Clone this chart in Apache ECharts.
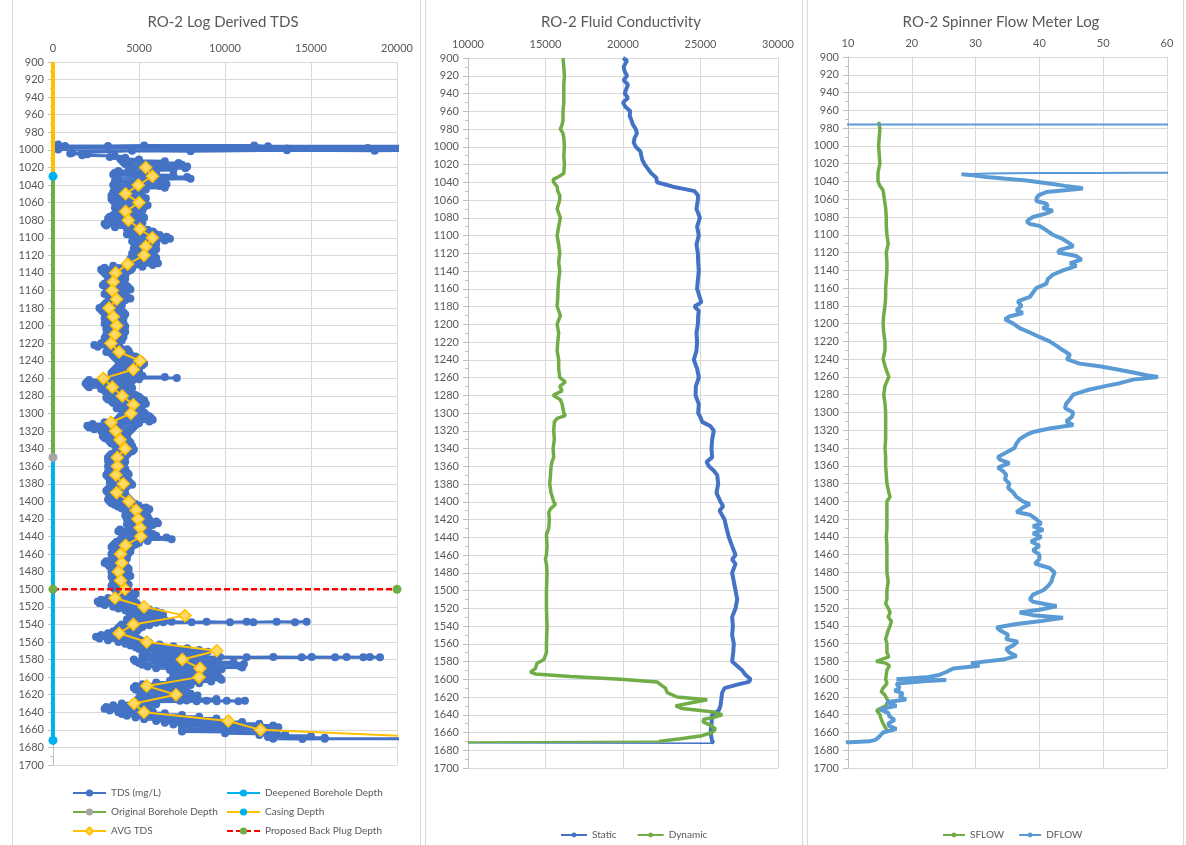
<!DOCTYPE html>
<html>
<head>
<meta charset="utf-8">
<title>RO-2 Logs</title>
<script src="https://cdn.jsdelivr.net/npm/echarts@6/dist/echarts.min.js"></script>
<style>
  html, body { margin: 0; padding: 0; background: #fff; }
  #main { width: 1186px; height: 845px; }
</style>
</head>
<body>
<div id="main"></div>
<script>
// ---- panel 1 : log derived TDS, points are [TDS mg/L, depth ft]
var tdsPoints = [
  [300,994],[700,995.5],[3200,995.5],[5300,995],[11700,995],[12500,996],[24000,996],
  [300,996.5],[24000,997],[300,997.5],[8000,998],[13600,998.5],[18300,998],[24000,998],
  [300,998.5],[24000,999],[300,999.5],[24000,999.5],[18700,1001],[13600,1000.5],[8000,1001.5],
  [4600,1001],[1100,1003.5],[1700,1005],[1000,1004],[2000,1005],[1700,1006],[3600,1007],[3300,1008],[4200,1009],
  [3900,1010],[5000,1011],[4000,1012],[6500,1013],[4100,1014],[7300,1015],[4200,1016],[7500,1017],
  [4500,1018],[7800,1019],[4400,1020],[7700,1021],[4600,1022],[7000,1023],[3800,1024],[6000,1025],
  [3600,1026],[5600,1027],[3500,1028],[7000,1029],[3600,1030],[7800,1031],[3700,1032],[8000,1033],
  [3800,1034],[6500,1035],[3600,1036],[6300,1037],[3700,1038],[6600,1039],[3500,1040],[6200,1041],
  [3800,1042],[6500,1043],[3600,1044],[5400,1045],[3700,1046],[5000,1047],[3500,1048],[5100,1049],
  [3600,1050],[5000,1051],[3400,1052],[5200,1053],[3500,1054],[5400,1055],[3400,1056],[5000,1057],
  [3500,1058],[5100,1059],[3600,1060],[5300,1061],[3700,1062],[5500,1063],[3800,1064],[5300,1065],
  [3600,1066],[5000,1067],[3700,1068],[5200,1069],[3800,1070],[5000,1071],[3900,1072],[4900,1073],
  [3500,1074],[5000,1075],[3300,1076],[5300,1077],[3200,1078],[4900,1079],[3500,1080],[4600,1081],
  [3400,1082],[5200,1083],[3000,1084],[4800,1085],[3100,1086],[4500,1087],[3600,1088],[4700,1089],
  [4300,1090],[5500,1091],[4500,1092],[5800,1093],[4400,1094],[5900,1095],[4300,1096],[6200,1097],
  [4600,1098],[6600,1099],[4700,1100],[6800,1101],[4800,1102],[6500,1103],[4600,1104],[5800,1105],
  [4900,1106],[6000,1107],[4800,1108],[5700,1109],[4900,1110],[5800,1111],[4700,1112],[6000,1113],
  [4900,1114],[5600,1115],[4800,1116],[5500,1117],[4600,1118],[5800,1119],[4900,1120],[5900,1121],
  [4700,1122],[6000,1123],[4500,1124],[5800,1125],[4600,1126],[6000,1127],[4800,1128],[6100,1129],
  [4400,1130],[5800,1131],[3500,1132],[5200,1133],[3000,1134],[4600,1135],[2800,1136],[4500,1137],
  [2900,1138],[4300,1139],[3000,1140],[4000,1141],[3100,1142],[4200,1143],[3300,1144],[4100,1145],
  [3400,1146],[4200,1147],[3200,1148],[3900,1149],[3300,1150],[4100,1151],[3000,1152],[3800,1153],
  [2900,1154],[4300,1155],[3100,1156],[4400,1157],[3300,1158],[4500,1159],[3200,1160],[4200,1161],
  [3100,1162],[4000,1163],[3000,1164],[4100,1165],[3200,1166],[4300,1167],[3300,1168],[4500,1169],
  [3400,1170],[4200,1171],[3300,1172],[4000,1173],[3100,1174],[3900,1175],[3000,1176],[4000,1177],
  [2900,1178],[3800,1179],[2700,1180],[3700,1181],[2800,1182],[3900,1183],[2900,1184],[4100,1185],
  [3000,1186],[4200,1187],[3100,1188],[4000,1189],[3200,1190],[4100,1191],[3000,1192],[3900,1193],
  [3100,1194],[4000,1195],[3200,1196],[4100,1197],[3000,1198],[4000,1199],[3300,1200],[4200,1201],
  [3200,1202],[3900,1203],[3100,1204],[4000,1205],[3200,1206],[4200,1207],[3300,1208],[4100,1209],
  [3100,1210],[4000,1211],[3200,1212],[4100,1213],[3000,1214],[3900,1215],[3200,1216],[4000,1217],
  [3100,1218],[3800,1219],[2800,1220],[3700,1221],[2400,1222],[3800,1223],[2600,1224],[3900,1225],
  [3200,1226],[4300,1227],[3300,1228],[4400,1229],[3100,1230],[4000,1231],[3400,1232],[4500,1233],
  [3500,1234],[4800,1235],[3600,1236],[4900,1237],[3700,1238],[5100,1239],[3800,1240],[5200,1241],
  [3900,1242],[5300,1243],[4000,1244],[5200,1245],[3800,1246],[4900,1247],[3700,1248],[4800,1249],
  [3600,1250],[5000,1251],[3500,1252],[4800,1253],[3400,1254],[4900,1255],[3600,1256],[5200,1257],
  [3700,1258],[6500,1258.5],[4000,1259],[7200,1259.5],[3000,1260],[5000,1261],[2100,1262],[4600,1263],
  [2000,1264],[4300,1265],[1900,1266],[4000,1267],[2000,1268],[4200,1269],[2100,1270],[4600,1271],
  [2800,1272],[4500,1273],[3000,1274],[4400,1275],[3100,1276],[4600,1277],[3200,1278],[4800,1279],
  [3300,1280],[5000,1281],[3100,1282],[5100,1283],[3200,1284],[5300,1285],[3400,1286],[5200,1287],
  [3500,1288],[5400,1289],[3800,1290],[5200,1291],[3900,1292],[5100,1293],[3700,1294],[5000,1295],
  [4000,1296],[5100,1297],[4100,1298],[5300,1299],[4200,1300],[5400,1301],[4000,1302],[5600,1303],
  [3900,1304],[5700,1305],[3800,1306],[5800,1307],[3700,1308],[5600,1309],[3000,1310],[5000,1311],
  [2300,1312],[4800,1313],[2000,1314],[4700,1315],[2100,1316],[4600,1317],[2400,1318],[4500,1319],
  [2800,1320],[4400,1321],[3000,1322],[4300,1323],[3100,1324],[4200,1325],[2900,1326],[4300,1327],
  [3000,1328],[4100,1329],[3200,1330],[4400,1331],[3300,1332],[4500,1333],[3400,1334],[4300,1335],
  [3600,1336],[4600,1337],[3700,1338],[4500,1339],[3800,1340],[4700,1341],[3700,1342],[4600,1343],
  [3600,1344],[4400,1345],[3400,1346],[4300,1347],[3300,1348],[4200,1349],[3200,1350],[4100,1351],
  [3300,1352],[4000,1353],[3200,1354],[4200,1355],[3300,1356],[4100,1357],[3400,1358],[4000,1359],
  [3200,1360],[4100,1361],[3300,1362],[4200,1363],[3400,1364],[4100,1365],[3200,1366],[4300,1367],
  [3300,1368],[4400,1369],[3100,1370],[4200,1371],[3200,1372],[4000,1373],[3400,1374],[4300,1375],
  [3500,1376],[4400,1377],[3300,1378],[4500,1379],[3400,1380],[4600,1381],[3500,1382],[4300,1383],
  [3300,1384],[4200,1385],[3200,1386],[4100,1387],[3100,1388],[4000,1389],[3200,1390],[4200,1391],
  [3300,1392],[4100,1393],[3400,1394],[4300,1395],[3300,1396],[4400,1397],[3200,1398],[4500,1399],
  [3300,1400],[4600,1401],[3400,1402],[4800,1403],[3600,1404],[5000,1405],[3800,1406],[5400,1407],
  [4000,1408],[5600,1409],[4200,1410],[5300,1411],[4400,1412],[5200,1413],[4300,1414],[5400,1415],
  [4200,1416],[5500,1417],[4400,1418],[5300,1419],[4300,1420],[5600,1421],[4500,1422],[6000,1423],
  [4400,1424],[6100,1425],[4300,1426],[5800,1427],[4500,1428],[5600,1429],[4400,1430],[5400,1431],
  [3900,1432],[5200,1433],[3800,1434],[5500,1435],[4000,1436],[5800,1437],[4200,1438],[6000,1439],
  [4300,1440],[6600,1441],[4000,1442],[6900,1443],[3900,1444],[5500,1445],[3700,1446],[5000,1447],
  [3600,1448],[4800,1449],[3500,1450],[4600,1451],[3400,1452],[4400,1453],[3500,1454],[4300,1455],
  [3600,1456],[4500,1457],[3500,1458],[4400,1459],[3400,1460],[4300,1461],[3500,1462],[4200,1463],
  [3600,1464],[4300,1465],[3400,1466],[4200,1467],[3100,1468],[4100,1469],[3000,1470],[4000,1471],
  [3200,1472],[4200,1473],[3300,1474],[4300,1475],[3500,1476],[4400,1477],[3600,1478],[4300,1479],
  [3400,1480],[4200,1481],[3500,1482],[4400,1483],[3600,1484],[4500,1485],[3400,1486],[4300,1487],
  [3500,1488],[4200,1489],[3600,1490],[4100,1491],[3500,1492],[4300,1493],[3600,1494],[4400,1495],
  [3400,1496],[4200,1497],[3500,1498],[4100,1499],[3600,1500],[4300,1501],[3700,1502],[4500,1503],
  [3800,1504],[4800,1505],[3900,1506],[4700,1507],[3800,1508],[4500,1509],[3200,1510],[4600,1511],
  [2800,1512],[4700,1513],[2600,1514],[4800,1515],[2700,1516],[4900,1517],[3000,1518],[4700,1519],
  [3500,1520],[5200,1521],[3800,1522],[5600,1523],[4200,1524],[6000,1525],[4400,1526],[6300,1527],
  [4600,1528],[6400,1529],[4700,1530],[6200,1531],[4500,1532],[6300,1533],[4300,1534],[6500,1535],
  [4500,1536],[5450,1537],[5830,1536.5],[6410,1537.5],[6900,1537],[8060,1537.5],[8930,1537],
  [10290,1537.5],[11260,1537],[11650,1537.5],[13000,1537],[14070,1537.5],[14750,1537],[6000,1538],
  [4000,1540],[5600,1541],[3900,1542],[5200,1543],[3800,1544],[5000,1545],[3700,1546],[4900,1547],
  [3500,1548],[4800,1549],[3200,1550],[4700,1551],[2800,1552],[4600,1553],[2500,1554],[4800,1555],
  [2700,1556],[5000,1557],[3200,1558],[5200,1559],[3800,1560],[5600,1561],[4200,1562],[6200,1563],
  [4500,1564],[7000,1565],[4800,1566],[7800,1567],[5000,1568],[8500,1569],[5200,1570],[9000,1571],
  [5400,1572],[8800,1573],[5300,1574],[8200,1575],[5200,1576],[5250,1577],[6610,1576.5],[7770,1577.5],
  [9710,1577],[11260,1577.5],[12810,1577],[14460,1577.5],[15040,1577],[16400,1577.5],[17070,1577],
  [18040,1577.5],[18420,1577],[19010,1577.5],[8000,1578],
  [4700,1580],[9500,1581],[4800,1582],[10500,1583],[5000,1584],[11100,1585],[5200,1586],[10800,1587],
  [5500,1588],[11000,1589],[6000,1590],[9800,1591],[6800,1592],[9500,1593],[7000,1594],[9200,1595],
  [7100,1596],[9400,1597],[7000,1598],[9600,1599],[7000,1600],[9700,1601],[7200,1602],[9800,1603],
  [6800,1604],[9200,1605],[6000,1606],[8500,1607],[5200,1608],[8000,1609],[4800,1610],[7600,1611],
  [4700,1612],[7200,1613],[4800,1614],[7500,1615],[5000,1616],[7800,1617],[5200,1618],[8000,1619],
  [5400,1620],[8400,1621],[5300,1622],[8000,1623],[5000,1624],[9500,1625],[4900,1626],[7380,1627],
  [7770,1626.5],[8350,1627.5],[8930,1627],[9520,1627.5],[10100,1627],[10780,1627.5],[11160,1627],[6000,1628],
  [4000,1630],[6000,1631],[3500,1632],[5600,1633],[3100,1634],[5200,1635],[3000,1636],[5400,1637],
  [3300,1638],[5800,1639],[3800,1640],[6500,1641],[4000,1642],[7500,1643],[4300,1644],[8500,1645],
  [4800,1646],[9500,1647],[5300,1648],[10200,1649],[6000,1650],[11000,1651],[6500,1652],[12000,1653],
  [7000,1654],[12800,1655],[7500,1656],[13100,1657],[8000,1658],[12500,1659],[7500,1660],[12000,1661],
  [7500,1662],[13000,1663],[10000,1664],[13500,1665],[12000,1666],[15000,1667],[12500,1668],[15800,1669],
  [12800,1670],[14500,1670.5],[15800,1670],[24000,1670]
];
var avgDepth = [1020,1030,1040,1050,1060,1070,1080,1090,1100,1110,1120,1130,1140,1150,1160,1170,1180,1190,
  1200,1210,1220,1230,1240,1250,1260,1270,1280,1290,1300,1310,1320,1330,1340,1350,1360,1370,1380,1390,
  1400,1410,1420,1430,1440,1450,1460,1470,1480,1490,1500,1510,1520,1530,1540,1550,1560,1570,1580,1590,
  1600,1610,1620,1630,1640,1650,1660,1670];
var avgTds = [5390,5780,4960,4220,5000,4220,4380,5060,5780,5390,5290,4340,3640,3510,3450,3700,3260,3510,
  3700,3600,3370,3840,5060,4670,2930,3450,4030,4670,4530,3370,3640,3900,4190,3740,3740,3660,4090,3700,
  4420,4830,4940,5060,5100,4220,3930,3990,3800,3930,4190,3600,5290,7670,4670,3840,5450,9520,7520,8550,
  8490,5450,7150,4710,5290,10190,12070,24200];
var casingDepth = [900, 1030];
var originalDepth = [1030, 1350];
var deepenedDepth = [1350, 1672];
var backPlugDepth = 1500;

// ---- panel 2 : fluid conductivity, [uS/cm, depth]
var staticCond = [
  [20000,900],[20260,903],[20040,910],[20110,915],[20260,920],[20040,925],[20320,930],[20210,935],
  [20110,940],[20320,945],[20000,950],[20150,955],[20470,960],[20430,965],[20540,970],[20640,975],
  [20820,980],[20900,985],[20750,990],[20690,995],[20820,1000],[21120,1005],[21180,1010],[21250,1015],
  [21400,1020],[21610,1025],[21830,1030],[22150,1035],[22190,1040],[22100,1042],[23220,1045],[24080,1048],
  [24620,1050],[24840,1055],[24830,1060],[24740,1070],[24960,1080],[24780,1090],[24890,1100],[24740,1110],
  [24830,1120],[24850,1130],[24890,1140],[24830,1150],[24780,1160],[24960,1170],[25060,1175],[24610,1180],
  [24890,1185],[24850,1190],[24830,1200],[24740,1210],[24780,1220],[24740,1230],[24570,1240],[24780,1250],
  [24890,1260],[24700,1270],[24680,1280],[24890,1290],[24850,1300],[25000,1305],[25110,1310],[25650,1315],
  [25860,1320],[25750,1330],[25710,1340],[25750,1350],[25390,1355],[25540,1360],[25860,1365],[26080,1370],
  [26140,1380],[26030,1390],[26290,1400],[26460,1405],[26230,1410],[26550,1420],[26680,1430],[26830,1440],
  [27040,1450],[27260,1460],[27040,1465],[27260,1470],[27040,1480],[27150,1490],[27260,1500],[27370,1510],
  [27260,1520],[27040,1530],[27090,1540],[27040,1550],[27150,1560],[27110,1570],[27040,1580],[27370,1585],
  [27690,1590],[27900,1595],[28230,1600],[28120,1603],[27370,1606],[26550,1610],[26400,1615],[26360,1620],
  [26290,1630],[26180,1635],[25750,1640],[25710,1650],[25650,1660],[25750,1670],[25860,1672]
];
var staticTail = [[25860,1672],[10000,1671.5]];
var dynamicCond = [
  [16130,900],[16180,910],[16220,920],[16180,930],[16180,940],[16180,950],[16130,960],[16130,970],
  [16070,975],[15960,980],[16130,985],[16180,990],[16220,1000],[16180,1010],[16220,1020],[16180,1030],
  [15920,1033],[15490,1037],[15530,1040],[15750,1045],[15790,1050],[15920,1055],[15920,1060],[15750,1070],
  [15960,1080],[15850,1090],[15750,1100],[15850,1110],[15920,1120],[15850,1130],[15920,1140],[15850,1150],
  [15810,1160],[15790,1170],[15750,1180],[15960,1190],[15750,1200],[15850,1210],[15790,1220],[15750,1230],
  [15850,1240],[15850,1250],[15920,1260],[16280,1265],[15920,1270],[16070,1275],[15490,1280],[15960,1285],
  [16070,1290],[16180,1300],[16280,1303],[15750,1306],[15570,1310],[15530,1320],[15570,1330],[15490,1340],
  [15530,1350],[15420,1355],[15360,1360],[15320,1370],[15270,1380],[15360,1390],[15530,1400],[15640,1403],
  [15320,1408],[15210,1412],[15250,1420],[15210,1430],[15060,1437],[15100,1450],[15060,1460],[14990,1465],
  [15060,1470],[15100,1480],[15060,1500],[15060,1520],[15100,1540],[15060,1560],[15060,1570],[14890,1578],
  [14450,1582],[14350,1588],[14020,1592],[14350,1594],[16610,1597],[19830,1600],[22200,1603],[22420,1606],
  [22740,1610],[22850,1615],[23490,1620],[25430,1623],[24570,1626],[23390,1630],[23820,1633],[25860,1637],
  [26400,1640],[25860,1643],[25210,1645],[25170,1648],[25650,1652],[25970,1656],[25750,1660],[25000,1664],
  [23710,1667],[22310,1670]
];
var dynamicTail = [[22310,1670],[10000,1671]];

// ---- panel 3 : spinner flow meter, [flow, depth]
var sflow = [
  [14.8,973],[14.8,975],[15.0,980],[14.9,990],[14.8,1000],[14.9,1010],[15.0,1020],[14.7,1030],[14.7,1040],
  [15.0,1045],[15.5,1050],[15.7,1060],[15.9,1070],[16.0,1080],[16.0,1090],[16.1,1100],[16.3,1110],[16.0,1120],
  [16.1,1130],[16.1,1140],[16.0,1150],[15.9,1160],[15.9,1170],[15.8,1180],[15.6,1190],[15.5,1200],[15.6,1210],
  [15.8,1220],[15.8,1230],[15.5,1240],[15.9,1250],[16.4,1260],[16.1,1265],[15.8,1270],[15.6,1280],[15.8,1290],
  [15.9,1300],[15.9,1310],[15.9,1320],[15.9,1330],[15.8,1340],[15.9,1350],[15.9,1360],[16.0,1370],[16.1,1380],
  [16.4,1390],[16.6,1395],[16.1,1400],[16.1,1410],[16.1,1420],[16.1,1430],[16.0,1440],[16.1,1450],[16.1,1460],
  [16.1,1470],[16.1,1480],[16.3,1490],[16.1,1500],[16.1,1510],[15.9,1515],[16.3,1520],[16.6,1525],[16.3,1530],
  [16.8,1535],[16.6,1540],[16.3,1545],[16.1,1550],[15.9,1555],[16.1,1560],[16.1,1570],[16.4,1575],[15.2,1578],
  [14.4,1580],[15.9,1582],[16.5,1585],[16.1,1590],[15.9,1600],[16.1,1605],[15.5,1610],[15.2,1614],[15.8,1618],
  [16.0,1620],[16.3,1625],[15.9,1630],[14.5,1635],[15.0,1640],[15.2,1645],[15.5,1650],[15.9,1655],[16.1,1658]
];
var dflowTop = [[0,976],[80,976],[80,1030],[55,1030.2],[49,1030.4],[40,1030.6],[35,1030.8],[32,1031],[27.8,1032]];
var dflow = [
  [27.8,1032],[29.6,1033],[31.7,1035],[34.8,1037],[38.0,1039],[40.0,1041],[42.1,1043],[44.0,1045],[46.3,1047],
  [46.8,1048],[44.0,1050],[41.1,1052],[40.0,1055],[39.6,1058],[39.5,1062],[41.1,1065],[41.3,1068],[40.5,1070],
  [42.1,1073],[41.1,1076],[39.0,1080],[38.0,1085],[38.5,1088],[40.0,1090],[41.1,1095],[42.1,1100],[43.7,1105],
  [44.8,1110],[45.3,1113],[43.2,1117],[42.9,1120],[45.8,1124],[46.6,1128],[44.8,1132],[45.8,1135],[43.7,1140],
  [42.1,1145],[41.3,1150],[41.1,1155],[39.5,1160],[39.0,1165],[38.5,1170],[36.6,1175],[37.2,1180],[36.4,1185],
  [37.4,1188],[35.3,1192],[34.6,1195],[35.9,1200],[36.9,1205],[38.5,1210],[40.0,1215],[41.6,1220],[42.7,1225],
  [43.7,1230],[44.8,1235],[44.3,1240],[46.3,1245],[49.4,1248],[51.0,1250],[54.7,1255],[56.8,1258],[58.6,1260],
  [54.7,1263],[52.6,1267],[50.5,1270],[47.4,1275],[45.3,1280],[44.8,1285],[44.2,1290],[44.0,1295],[45.3,1300],
  [45.1,1305],[44.2,1310],[45.3,1314],[41.6,1318],[39.0,1322],[38.0,1325],[36.9,1330],[36.4,1335],[36.1,1340],
  [34.8,1345],[33.5,1350],[33.8,1353],[35.3,1357],[33.5,1362],[34.3,1366],[34.8,1370],[34.6,1375],[35.3,1380],
  [35.1,1385],[35.9,1390],[36.4,1395],[37.4,1400],[38.5,1403],[37.4,1407],[36.4,1412],[38.5,1415],[39.5,1420],
  [40.3,1425],[39.0,1428],[40.6,1432],[39.0,1436],[40.3,1440],[38.7,1445],[40.0,1450],[39.0,1455],[40.0,1460],
  [40.0,1465],[39.3,1470],[41.6,1475],[42.4,1480],[42.1,1485],[41.9,1490],[41.4,1495],[40.6,1500],[39.0,1505],
  [38.5,1510],[39.0,1513],[42.7,1518],[40.0,1522],[36.9,1525],[39.0,1528],[43.7,1531],[40.0,1535],[36.4,1538],
  [33.3,1542],[33.8,1545],[35.1,1550],[34.8,1555],[36.6,1558],[35.9,1562],[34.8,1566],[35.3,1570],[36.4,1574],
  [34.3,1578],[29.3,1582],[30.6,1585],[26.5,1588],[25.4,1592],[24.4,1595],[22.3,1598],[17.6,1600],[25.4,1601],
  [22.3,1602],[17.6,1605],[18.1,1610],[17.3,1613],[18.6,1616],[18.1,1620],[19.1,1623],[16.0,1626],[17.6,1630],
  [15.0,1634],[16.3,1638],[16.5,1642],[17.3,1646],[16.3,1650],[16.5,1653],[17.6,1656],[15.5,1660],[15.0,1664],
  [14.4,1668],[13.4,1670],[10.3,1671],[8,1671.5]
];

var txt = '#595959';
var grid = '#D9D9D9';
var font = 'Lato';

function plain(v) { return String(v); }

function yAx(gi) {
  return {
    gridIndex: gi, type: 'value', inverse: true, min: 900, max: 1700, interval: 20,
    axisLine: { show: true, lineStyle: { color: '#BFBFBF' } },
    axisTick: { show: true, length: 5, lineStyle: { color: '#BFBFBF' } },
    minorTick: { show: true, splitNumber: 2, length: 3, lineStyle: { color: '#BFBFBF' } },
    splitLine: { show: true, lineStyle: { color: grid, width: 1 } },
    axisLabel: { color: txt, fontSize: 11, fontFamily: font, margin: 9, formatter: plain }
  };
}
function xAx(gi, mn, mx, step) {
  return {
    gridIndex: gi, type: 'value', position: 'top', min: mn, max: mx, interval: step,
    axisLine: { show: false }, axisTick: { show: false },
    splitLine: { show: true, lineStyle: { color: grid, width: 1 } },
    axisLabel: { color: txt, fontSize: 11, fontFamily: font, margin: 8, formatter: plain }
  };
}

var chart = echarts.init(document.getElementById('main'));
var option = {
  animation: false,
  backgroundColor: '#fff',
  textStyle: { fontFamily: font },
  graphic: [
    { type: 'rect', shape: { x: 12.5, y: -2, width: 408, height: 860 }, style: { fill: 'none', stroke: '#D9D9D9', lineWidth: 1 } },
    { type: 'rect', shape: { x: 425.5, y: -2, width: 377, height: 860 }, style: { fill: 'none', stroke: '#D9D9D9', lineWidth: 1 } },
    { type: 'rect', shape: { x: 807.5, y: -2, width: 376, height: 860 }, style: { fill: 'none', stroke: '#D9D9D9', lineWidth: 1 } }
  ],
  title: [
    { text: 'RO-2 Log Derived TDS', left: 218, top: 10, textAlign: 'center', textStyle: { color: txt, fontSize: 15, fontWeight: 'normal', fontFamily: font } },
    { text: 'RO-2 Fluid Conductivity', left: 616, top: 10, textAlign: 'center', textStyle: { color: txt, fontSize: 15, fontWeight: 'normal', fontFamily: font } },
    { text: 'RO-2 Spinner Flow Meter Log', left: 996, top: 10, textAlign: 'center', textStyle: { color: txt, fontSize: 15, fontWeight: 'normal', fontFamily: font } }
  ],
  legend: [
    { orient: 'vertical', left: 67, top: 783, itemWidth: 33, itemHeight: 9, itemGap: 9, itemTextGap: 3,
      data: ['TDS (mg/L)', 'Original Borehole Depth', 'AVG TDS'],
      textStyle: { color: txt, fontSize: 10, fontFamily: font } },
    { orient: 'vertical', left: 221, top: 783, itemWidth: 33, itemHeight: 9, itemGap: 9, itemTextGap: 3,
      data: ['Deepened Borehole Depth', 'Casing Depth', 'Proposed Back Plug Depth'],
      textStyle: { color: txt, fontSize: 10, fontFamily: font } },
    { orient: 'horizontal', left: 555, top: 825, itemWidth: 26, itemHeight: 6, itemGap: 20, itemTextGap: 3,
      data: ['Static', 'Dynamic'], textStyle: { color: txt, fontSize: 10, fontFamily: font } },
    { orient: 'horizontal', left: 937, top: 825, itemWidth: 22, itemHeight: 6, itemGap: 14, itemTextGap: 3,
      data: ['SFLOW', 'DFLOW'], textStyle: { color: txt, fontSize: 10, fontFamily: font } }
  ],
  grid: [
    { left: 53, top: 62, width: 344, height: 703 },
    { left: 468, top: 58, width: 310, height: 710 },
    { left: 848, top: 57, width: 319, height: 711 }
  ],
  xAxis: [xAx(0, 0, 20000, 5000), xAx(1, 10000, 30000, 5000), xAx(2, 10, 60, 10)],
  yAxis: [yAx(0), yAx(1), yAx(2)],
  series: [
    { name: 'TDS (mg/L)', type: 'line', xAxisIndex: 0, yAxisIndex: 0, data: tdsPoints,
      symbol: 'circle', symbolSize: 8, showAllSymbol: true,
      lineStyle: { color: '#4472C4', width: 3 }, itemStyle: { color: '#4472C4' }, z: 2 },
    { name: 'Deepened Borehole Depth', type: 'line', xAxisIndex: 0, yAxisIndex: 0,
      data: [{ value: [0, deepenedDepth[0]], symbol: 'none' }, [0, deepenedDepth[1]]],
      symbol: 'circle', symbolSize: 9, lineStyle: { color: '#00B0F0', width: 4 }, itemStyle: { color: '#00B0F0' }, z: 4 },
    { name: 'Original Borehole Depth', type: 'line', xAxisIndex: 0, yAxisIndex: 0,
      data: [{ value: [0, originalDepth[0]], symbol: 'none' }, [0, originalDepth[1]]],
      symbol: 'circle', symbolSize: 9, lineStyle: { color: '#70AD47', width: 4 }, itemStyle: { color: '#A5A5A5' }, z: 5 },
    { name: 'Casing Depth', type: 'line', xAxisIndex: 0, yAxisIndex: 0,
      data: [{ value: [0, casingDepth[0]], symbol: 'none' }, [0, casingDepth[1]]],
      symbol: 'circle', symbolSize: 9, lineStyle: { color: '#FFC000', width: 4 }, itemStyle: { color: '#00B0F0' }, z: 5 },
    { name: 'AVG TDS', type: 'line', xAxisIndex: 0, yAxisIndex: 0,
      data: avgDepth.map(function (d, i) { return [avgTds[i], d]; }),
      symbol: 'diamond', symbolSize: 12,
      lineStyle: { color: '#FFC000', width: 2 }, itemStyle: { color: '#FFD966', borderColor: '#FFC000', borderWidth: 1.5 }, z: 6 },
    { name: 'Proposed Back Plug Depth', type: 'line', xAxisIndex: 0, yAxisIndex: 0,
      data: [[0, backPlugDepth], [20000, backPlugDepth]],
      symbol: 'circle', symbolSize: 9,
      lineStyle: { color: '#FF0000', width: 2.5, type: [6, 3] }, itemStyle: { color: '#70AD47' }, z: 7 },

    { name: 'Static', type: 'line', xAxisIndex: 1, yAxisIndex: 1, data: staticCond,
      symbol: 'circle', symbolSize: 3, showSymbol: false,
      lineStyle: { color: '#4472C4', width: 4 }, itemStyle: { color: '#4472C4' } },
    { name: 'Static', type: 'line', xAxisIndex: 1, yAxisIndex: 1, data: staticTail,
      symbol: 'none', lineStyle: { color: '#4472C4', width: 1.5 } },
    { name: 'Dynamic', type: 'line', xAxisIndex: 1, yAxisIndex: 1, data: dynamicCond,
      symbol: 'circle', symbolSize: 3, showSymbol: false,
      lineStyle: { color: '#70AD47', width: 3.5 }, itemStyle: { color: '#70AD47' } },
    { name: 'Dynamic', type: 'line', xAxisIndex: 1, yAxisIndex: 1, data: dynamicTail,
      symbol: 'none', lineStyle: { color: '#70AD47', width: 2 } },

    { name: 'SFLOW', type: 'line', xAxisIndex: 2, yAxisIndex: 2, data: sflow,
      symbol: 'circle', symbolSize: 3, showSymbol: false,
      lineStyle: { color: '#70AD47', width: 3.5 }, itemStyle: { color: '#70AD47' } },
    { name: 'DFLOW', type: 'line', xAxisIndex: 2, yAxisIndex: 2, data: dflow,
      symbol: 'circle', symbolSize: 3, showSymbol: false,
      lineStyle: { color: '#5B9BD5', width: 4 }, itemStyle: { color: '#5B9BD5' } },
    { name: 'DFLOW', type: 'line', xAxisIndex: 2, yAxisIndex: 2, data: dflowTop,
      symbol: 'none', lineStyle: { color: '#5B9BD5', width: 2 } }
  ]
};
chart.setOption(option);
</script>
</body>
</html>
